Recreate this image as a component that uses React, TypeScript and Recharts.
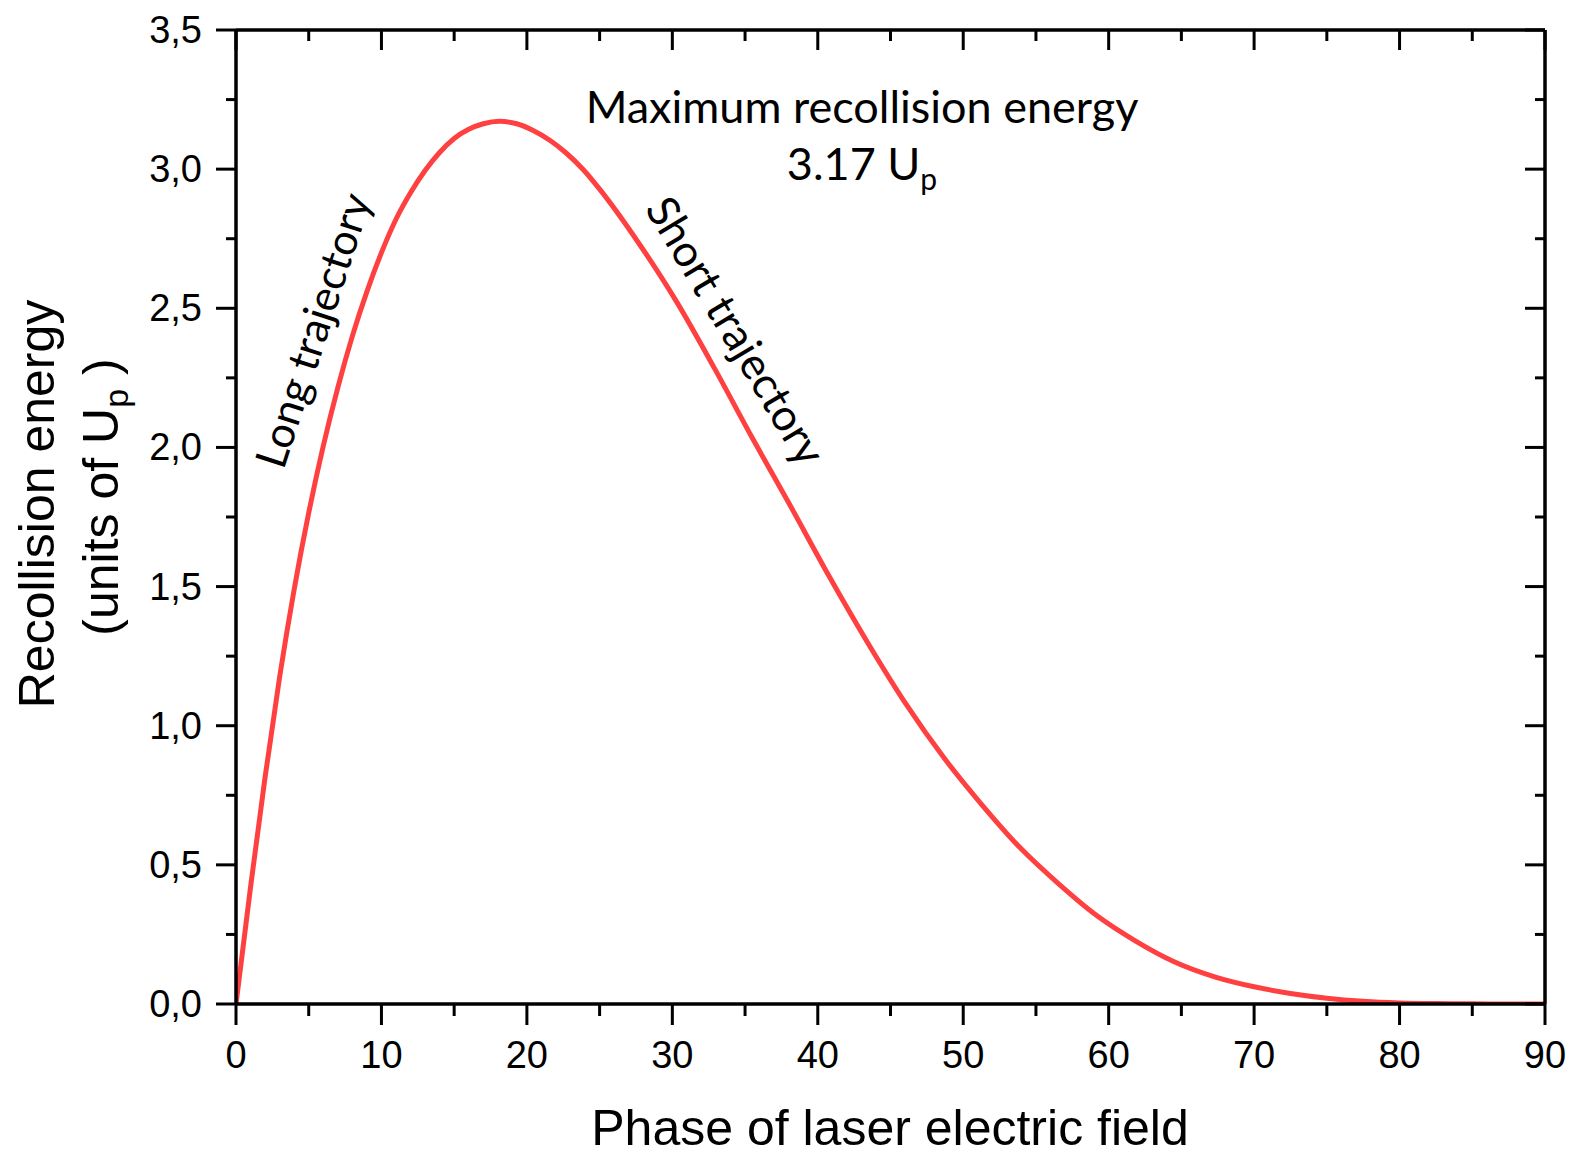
import React from 'react';
import { LineChart, Line, XAxis, YAxis } from 'recharts';

// phase of the field at ionisation (deg) and energy at return (units of Up)
const phase = [0, 1, 2, 3, 4, 5, 6, 7, 8, 9, 10, 11, 12, 13, 14, 15, 16, 17, 18.1, 19.3, 20.4, 21.6, 22.7, 23.9, 25, 27.6, 30.3, 32.9, 35.5, 38.2, 40.8, 43.4, 46, 48.7, 51.3, 53.9, 56.6, 59.2, 61.8, 64.5, 67.4, 70, 72.5, 75, 77.5, 80, 82.5, 85, 87.5, 90];
const energy = [0, 0.42, 0.815, 1.175, 1.49, 1.765, 2.005, 2.215, 2.4, 2.56, 2.7, 2.82, 2.915, 2.995, 3.06, 3.11, 3.143, 3.163, 3.172, 3.163, 3.14, 3.103, 3.058, 2.997, 2.928, 2.741, 2.523, 2.284, 2.034, 1.782, 1.535, 1.301, 1.083, 0.883, 0.715, 0.562, 0.43, 0.317, 0.228, 0.152, 0.096, 0.062, 0.038, 0.021, 0.01, 0.004, 0.0015, 0.0005, 0.0001, 0];

const xTicks = [0, 5, 10, 15, 20, 25, 30, 35, 40, 45, 50, 55, 60, 65, 70, 75, 80, 85, 90];
const yTicks = [0, 0.25, 0.5, 0.75, 1, 1.25, 1.5, 1.75, 2, 2.25, 2.5, 2.75, 3, 3.25, 3.5];

const data = phase.map((p, i) => ({ phase: p, energy: energy[i] }));

const W = 1573;
const H = 1157;
const tickFont = { fontFamily: '"Liberation Sans", Arial, sans-serif', fontSize: 38, fill: '#000' };
const titleFont = { fontFamily: '"Liberation Sans", Arial, sans-serif', fontSize: 50, fill: '#000' };
const noteFont = { fontFamily: 'Lato, "Open Sans", sans-serif', fontSize: 45, fill: '#000' };

const isMajorX = (v: number) => v % 10 === 0;
const isMajorY = (v: number) => Math.abs(v * 2 - Math.round(v * 2)) < 1e-6;
const fmtY = (v: number) => v.toFixed(1).replace('.', ',');

const BottomTick = ({ x, y, payload }: any) => {
  const major = isMajorX(payload.value);
  return (
    <g>
      <line x1={x} x2={x} y1={y} y2={y + (major ? 21 : 12)} stroke="#000" strokeWidth={3} />
      {major && (
        <text x={x} y={y + 64} textAnchor="middle" {...tickFont}>
          {payload.value}
        </text>
      )}
    </g>
  );
};

const TopTick = ({ x, y, payload }: any) => {
  const major = isMajorX(payload.value);
  return <line x1={x} x2={x} y1={y} y2={y + (major ? 20 : 11)} stroke="#000" strokeWidth={3} />;
};

const LeftTick = ({ x, y, payload }: any) => {
  const major = isMajorY(payload.value);
  return (
    <g>
      <line x1={x} x2={x - (major ? 20 : 10)} y1={y} y2={y} stroke="#000" strokeWidth={3} />
      {major && (
        <text x={x - 34} y={y + 13} textAnchor="end" {...tickFont}>
          {fmtY(payload.value)}
        </text>
      )}
    </g>
  );
};

const RightTick = ({ x, y, payload }: any) => {
  const major = isMajorY(payload.value);
  return <line x1={x} x2={x - (major ? 20 : 10)} y1={y} y2={y} stroke="#000" strokeWidth={3} />;
};

const axisLine = { stroke: '#000', strokeWidth: 3.5 };

export default function App() {
  return (
    <div style={{ position: 'absolute', left: 0, top: 0, width: W, height: H, background: '#fff' }}>
      <LineChart width={W} height={H} data={data} margin={{ top: 20, right: 18, bottom: 73, left: 136 }}>
        <XAxis
          dataKey="phase"
          type="number"
          domain={[0, 90]}
          allowDataOverflow
          ticks={xTicks}
          interval={0}
          tickSize={0}
          tickMargin={0}
          tickLine={false}
          tick={<BottomTick />}
          axisLine={axisLine}
          height={80}
        />
        <XAxis
          xAxisId="top"
          dataKey="phase"
          orientation="top"
          type="number"
          domain={[0, 90]}
          allowDataOverflow
          ticks={xTicks}
          interval={0}
          tickSize={0}
          tickMargin={0}
          tickLine={false}
          tick={<TopTick />}
          axisLine={axisLine}
          height={10}
        />
        <YAxis
          type="number"
          domain={[0, 3.5]}
          allowDataOverflow
          ticks={yTicks}
          interval={0}
          tickSize={0}
          tickMargin={0}
          tickLine={false}
          tick={<LeftTick />}
          axisLine={axisLine}
          width={100}
        />
        <YAxis
          yAxisId="right"
          dataKey="energy"
          orientation="right"
          type="number"
          domain={[0, 3.5]}
          allowDataOverflow
          ticks={yTicks}
          interval={0}
          tickSize={0}
          tickMargin={0}
          tickLine={false}
          tick={<RightTick />}
          axisLine={axisLine}
          width={10}
        />
        <Line
          type="monotone"
          dataKey="energy"
          stroke="#ff4040"
          strokeWidth={5}
          dot={false}
          activeDot={false}
          isAnimationActive={false}
        />
      </LineChart>
      <svg width={W} height={H} style={{ position: 'absolute', left: 0, top: 0, pointerEvents: 'none' }}>
        <text x={890} y={1145} textAnchor="middle" {...titleFont}>
          Phase of laser electric field
        </text>
        <text transform="translate(54,504) rotate(-90)" textAnchor="middle" {...titleFont}>
          Recollision energy
        </text>
        <text transform="translate(118,497) rotate(-90)" textAnchor="middle" {...titleFont}>
          (units of U
          <tspan fontSize={34} dy={10}>p</tspan>
          <tspan dy={-10}> )</tspan>
        </text>
        <text x={862} y={123} textAnchor="middle" {...noteFont}>
          Maximum recollision energy
        </text>
        <text x={862} y={180} textAnchor="middle" {...noteFont}>
          3.17 U
          <tspan fontSize={30} dy={10}>p</tspan>
        </text>
        <text transform="translate(312,330) rotate(-72)" textAnchor="middle" dominantBaseline="central" {...noteFont} fontSize={43}>
          Long trajectory
        </text>
        <text transform="translate(737,330) rotate(59)" textAnchor="middle" dominantBaseline="central" {...noteFont} fontSize={44}>
          Short trajectory
        </text>
      </svg>
    </div>
  );
}
